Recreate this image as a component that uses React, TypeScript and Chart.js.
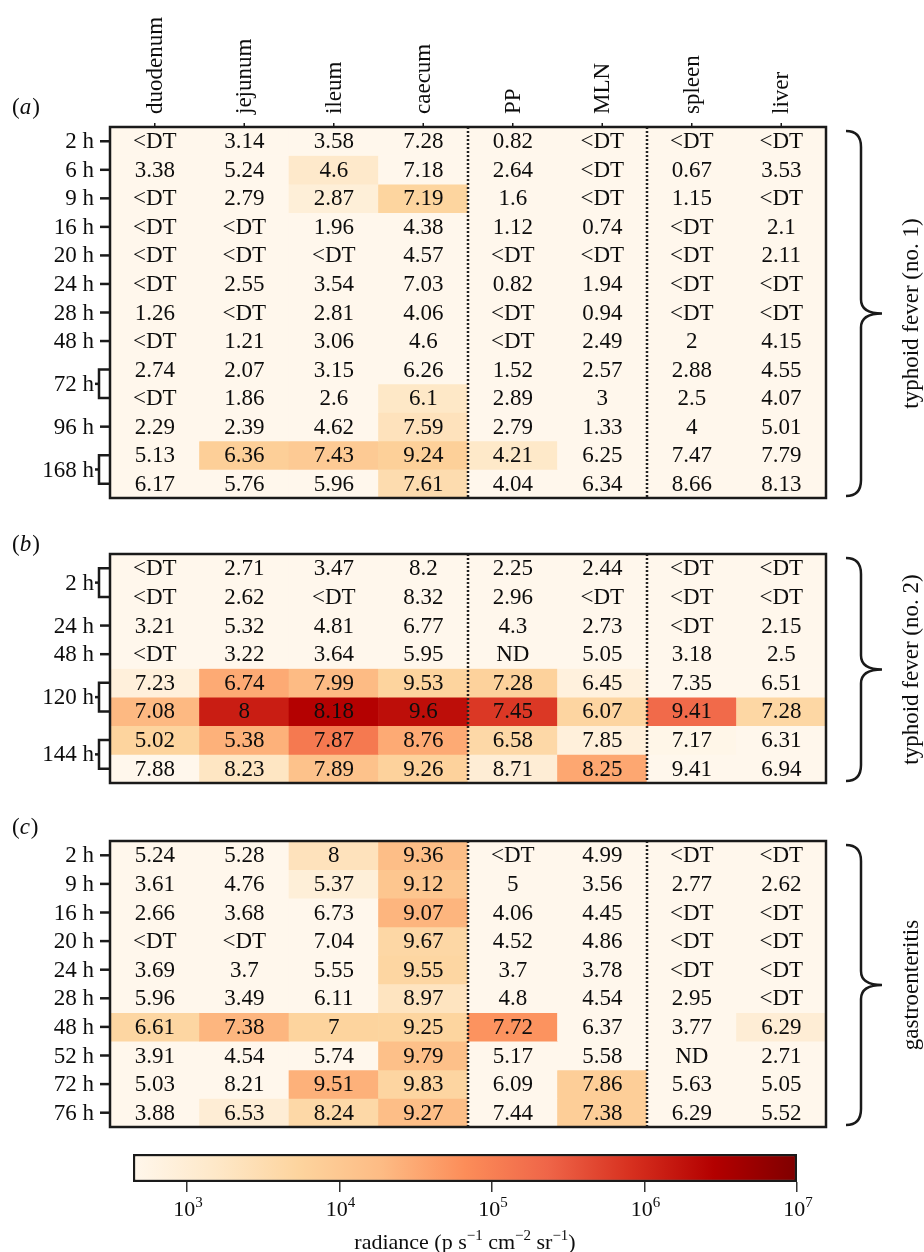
import React, { useEffect, useRef } from "react";
import { Chart, registerables } from "chart.js";
Chart.register(...registerables);

const FONT = '"Liberation Serif", "Times New Roman", serif';

// ---------- data ----------
const organs = ["duodenum", "jejunum", "ileum", "caecum", "PP", "MLN", "spleen", "liver"];

// panel (a) typhoid fever (no. 1)
const aTimes = ["2 h", "6 h", "9 h", "16 h", "20 h", "24 h", "28 h", "48 h", "72 h", "96 h", "168 h"];
const aSpans = [1, 1, 1, 1, 1, 1, 1, 1, 2, 1, 2];
const aText = [
  ["<DT", "3.14", "3.58", "7.28", "0.82", "<DT", "<DT", "<DT"],
  ["3.38", "5.24", "4.6", "7.18", "2.64", "<DT", "0.67", "3.53"],
  ["<DT", "2.79", "2.87", "7.19", "1.6", "<DT", "1.15", "<DT"],
  ["<DT", "<DT", "1.96", "4.38", "1.12", "0.74", "<DT", "2.1"],
  ["<DT", "<DT", "<DT", "4.57", "<DT", "<DT", "<DT", "2.11"],
  ["<DT", "2.55", "3.54", "7.03", "0.82", "1.94", "<DT", "<DT"],
  ["1.26", "<DT", "2.81", "4.06", "<DT", "0.94", "<DT", "<DT"],
  ["<DT", "1.21", "3.06", "4.6", "<DT", "2.49", "2", "4.15"],
  ["2.74", "2.07", "3.15", "6.26", "1.52", "2.57", "2.88", "4.55"],
  ["<DT", "1.86", "2.6", "6.1", "2.89", "3", "2.5", "4.07"],
  ["2.29", "2.39", "4.62", "7.59", "2.79", "1.33", "4", "5.01"],
  ["5.13", "6.36", "7.43", "9.24", "4.21", "6.25", "7.47", "7.79"],
  ["6.17", "5.76", "5.96", "7.61", "4.04", "6.34", "8.66", "8.13"],
];
// log10 radiance of each cell (colour)
const aRadiance = [
  [2.6, 2.6, 2.6, 2.6, 2.6, 2.6, 2.6, 2.6],
  [2.6, 2.6, 3.15, 2.6, 2.6, 2.6, 2.6, 2.6],
  [2.6, 2.6, 2.95, 3.72, 2.6, 2.6, 2.6, 2.6],
  [2.6, 2.6, 2.6, 2.6, 2.6, 2.6, 2.6, 2.6],
  [2.6, 2.6, 2.6, 2.6, 2.6, 2.6, 2.6, 2.6],
  [2.6, 2.6, 2.6, 2.6, 2.6, 2.6, 2.6, 2.6],
  [2.6, 2.6, 2.6, 2.6, 2.6, 2.6, 2.6, 2.6],
  [2.6, 2.6, 2.6, 2.6, 2.6, 2.6, 2.6, 2.6],
  [2.6, 2.6, 2.6, 2.6, 2.6, 2.6, 2.6, 2.6],
  [2.6, 2.6, 2.6, 3.2, 2.6, 2.6, 2.6, 2.6],
  [2.6, 2.6, 2.6, 3.35, 2.6, 2.6, 2.6, 2.6],
  [2.6, 3.85, 3.95, 3.83, 3.17, 2.6, 2.6, 2.6],
  [2.6, 2.6, 2.6, 3.52, 2.6, 2.6, 2.6, 2.6],
];

// panel (b) typhoid fever (no. 2)
const bTimes = ["2 h", "24 h", "48 h", "120 h", "144 h"];
const bSpans = [2, 1, 1, 2, 2];
const bText = [
  ["<DT", "2.71", "3.47", "8.2", "2.25", "2.44", "<DT", "<DT"],
  ["<DT", "2.62", "<DT", "8.32", "2.96", "<DT", "<DT", "<DT"],
  ["3.21", "5.32", "4.81", "6.77", "4.3", "2.73", "<DT", "2.15"],
  ["<DT", "3.22", "3.64", "5.95", "ND", "5.05", "3.18", "2.5"],
  ["7.23", "6.74", "7.99", "9.53", "7.28", "6.45", "7.35", "6.51"],
  ["7.08", "8", "8.18", "9.6", "7.45", "6.07", "9.41", "7.28"],
  ["5.02", "5.38", "7.87", "8.76", "6.58", "7.85", "7.17", "6.31"],
  ["7.88", "8.23", "7.89", "9.26", "8.71", "8.25", "9.41", "6.94"],
];
const bRadiance = [
  [2.6, 2.6, 2.6, 2.6, 2.6, 2.6, 2.6, 2.6],
  [2.6, 2.6, 2.6, 2.6, 2.6, 2.6, 2.6, 2.6],
  [2.6, 2.6, 2.6, 2.6, 2.6, 2.6, 2.6, 2.6],
  [2.6, 2.6, 2.6, 2.6, 2.6, 2.6, 2.6, 2.6],
  [2.9, 4.48, 4.28, 3.74, 3.78, 2.87, 2.6, 2.6],
  [4.3, 6.13, 6.44, 6.3, 5.83, 3.7, 5.3, 3.66],
  [3.74, 4.4, 5.1, 4.48, 3.62, 2.9, 2.7, 2.6],
  [2.5, 3.25, 4.13, 3.78, 3.0, 4.52, 2.6, 2.6],
];

// panel (c) gastroenteritis
const cTimes = ["2 h", "9 h", "16 h", "20 h", "24 h", "28 h", "48 h", "52 h", "72 h", "76 h"];
const cSpans = [1, 1, 1, 1, 1, 1, 1, 1, 1, 1];
const cText = [
  ["5.24", "5.28", "8", "9.36", "<DT", "4.99", "<DT", "<DT"],
  ["3.61", "4.76", "5.37", "9.12", "5", "3.56", "2.77", "2.62"],
  ["2.66", "3.68", "6.73", "9.07", "4.06", "4.45", "<DT", "<DT"],
  ["<DT", "<DT", "7.04", "9.67", "4.52", "4.86", "<DT", "<DT"],
  ["3.69", "3.7", "5.55", "9.55", "3.7", "3.78", "<DT", "<DT"],
  ["5.96", "3.49", "6.11", "8.97", "4.8", "4.54", "2.95", "<DT"],
  ["6.61", "7.38", "7", "9.25", "7.72", "6.37", "3.77", "6.29"],
  ["3.91", "4.54", "5.74", "9.79", "5.17", "5.58", "ND", "2.71"],
  ["5.03", "8.21", "9.51", "9.83", "6.09", "7.86", "5.63", "5.05"],
  ["3.88", "6.53", "8.24", "9.27", "7.44", "7.38", "6.29", "5.52"],
];
const cRadiance = [
  [2.6, 2.6, 3.35, 4.22, 2.6, 2.6, 2.6, 2.6],
  [2.6, 2.6, 2.95, 4.05, 2.6, 2.6, 2.6, 2.6],
  [2.6, 2.6, 2.6, 4.35, 2.6, 2.6, 2.6, 2.6],
  [2.6, 2.6, 2.6, 3.65, 2.6, 2.6, 2.6, 2.6],
  [2.6, 2.6, 2.6, 3.68, 2.6, 2.6, 2.6, 2.6],
  [2.6, 2.6, 2.6, 3.3, 2.6, 2.6, 2.6, 2.6],
  [3.68, 4.34, 3.74, 3.72, 4.75, 2.6, 2.6, 3.0],
  [2.6, 2.6, 2.6, 4.17, 2.6, 2.6, 2.6, 2.6],
  [2.6, 2.6, 4.4, 3.7, 2.6, 3.86, 2.6, 2.6],
  [2.6, 3.0, 3.62, 4.22, 2.6, 3.86, 2.6, 2.6],
];

// colour bar
const cbMin = 443;
const cbMax = 1e7;
const cbTickValues = [1e3, 1e4, 1e5, 1e6, 1e7];
const cbTickExponents = ["3", "4", "5", "6", "7"];
// [text, isSuperscript]
const cbTitleParts: [string, boolean][] = [
  ["radiance (p s", false],
  ["−1", true],
  [" cm", false],
  ["−2", true],
  [" sr", false],
  ["−1", true],
  [")", false],
];

const orRd = ["#fff7ec", "#fee8c8", "#fdd49e", "#fdbb84", "#fc8d59", "#ef6548", "#d7301f", "#b30000", "#7f0000"];

// ---------- helpers ----------
function hexToRgb(h: string) {
  const n = parseInt(h.slice(1), 16);
  return [(n >> 16) & 255, (n >> 8) & 255, n & 255];
}
function colourFor(logRad: number) {
  const lo = Math.log10(cbMin);
  const hi = Math.log10(cbMax);
  let t = (logRad - lo) / (hi - lo);
  t = Math.max(0, Math.min(1, t));
  const pos = t * (orRd.length - 1);
  const i = Math.min(orRd.length - 2, Math.floor(pos));
  const f = pos - i;
  const a = hexToRgb(orRd[i]);
  const b = hexToRgb(orRd[i + 1]);
  const c = a.map((v, k) => Math.round(v + (b[k] - v) * f));
  return `rgb(${c[0]},${c[1]},${c[2]})`;
}

type PanelCfg = {
  letter: string;
  letterY: number;
  times: string[];
  spans: number[];
  text: string[][];
  brace: string;
  headers: boolean;
};

const INK = "#0d0d0d";

function panelPlugin(cfg: PanelCfg) {
  return {
    id: "panelDecor",
    afterDatasetsDraw(chart: any) {
      const ctx = chart.ctx as CanvasRenderingContext2D;
      const area = chart.chartArea;
      const xs = chart.scales.x;
      const ys = chart.scales.y;
      ctx.save();
      // cell texts
      ctx.font = `23px ${FONT}`;
      ctx.fillStyle = INK;
      ctx.textAlign = "center";
      ctx.textBaseline = "middle";
      chart.data.datasets.forEach((_ds: any, i: number) => {
        const meta = chart.getDatasetMeta(i);
        meta.data.forEach((el: any, j: number) => {
          const p = el.getCenterPoint();
          ctx.fillText(cfg.text[i][j], p.x, p.y + 1);
        });
      });
      // dotted separators
      ctx.strokeStyle = "#222";
      ctx.lineWidth = 2.5;
      ctx.setLineDash([2, 2]);
      [4, 6].forEach((k) => {
        const x = (xs.getPixelForValue(k - 1) + xs.getPixelForValue(k)) / 2;
        ctx.beginPath();
        ctx.moveTo(x, area.top);
        ctx.lineTo(x, area.bottom);
        ctx.stroke();
      });
      ctx.setLineDash([]);
      // frame
      ctx.strokeStyle = "#1a1a1a";
      ctx.lineWidth = 2.5;
      ctx.strokeRect(area.left, area.top, area.right - area.left, area.bottom - area.top);

      // row labels with ticks / brackets
      ctx.lineWidth = 2.5;
      ctx.strokeStyle = "#1a1a1a";
      ctx.textAlign = "right";
      let r = 0;
      cfg.times.forEach((lab, gi) => {
        const span = cfg.spans[gi];
        let yMid: number;
        if (span === 1) {
          yMid = ys.getPixelForValue(r + 0.5);
          ctx.beginPath();
          ctx.moveTo(area.left - 10, yMid);
          ctx.lineTo(area.left, yMid);
          ctx.stroke();
        } else {
          const y1 = ys.getPixelForValue(r + 0.5);
          const y2 = ys.getPixelForValue(r + span - 0.5);
          yMid = (y1 + y2) / 2;
          const xv = area.left - 11;
          ctx.beginPath();
          ctx.moveTo(area.left, y1);
          ctx.lineTo(xv, y1);
          ctx.lineTo(xv, y2);
          ctx.lineTo(area.left, y2);
          ctx.stroke();
          ctx.beginPath();
          ctx.moveTo(xv, yMid);
          ctx.lineTo(xv - 4, yMid);
          ctx.stroke();
        }
        ctx.fillText(lab, area.left - 16, yMid + 1);
        r += span;
      });

      // column headers
      if (cfg.headers) {
        ctx.lineWidth = 1.5;
        organs.forEach((o, j) => {
          const x = xs.getPixelForValue(j);
          ctx.beginPath();
          ctx.moveTo(x, area.top - 4);
          ctx.lineTo(x, area.top);
          ctx.stroke();
          ctx.save();
          ctx.translate(x + 1, area.top - 13);
          ctx.rotate(-Math.PI / 2);
          ctx.textAlign = "left";
          ctx.textBaseline = "middle";
          ctx.fillText(o, 0, 0);
          ctx.restore();
        });
      }

      // panel letter (a)
      ctx.textAlign = "left";
      ctx.textBaseline = "middle";
      let lx = 12;
      ctx.font = `23px ${FONT}`;
      ctx.fillText("(", lx, cfg.letterY);
      lx += ctx.measureText("(").width;
      ctx.font = `italic 23px ${FONT}`;
      ctx.fillText(cfg.letter, lx, cfg.letterY);
      lx += ctx.measureText(cfg.letter).width + 1;
      ctx.font = `23px ${FONT}`;
      ctx.fillText(")", lx, cfg.letterY);

      // curly brace on the right
      const top = ys.getPixelForValue(0) + 4;
      const bot = ys.getPixelForValue(cfg.text.length) - 2;
      const mid = (top + bot) / 2;
      const x0 = area.right + 20;
      const x1 = area.right + 35;
      const xt = area.right + 56;
      ctx.lineWidth = 2.5;
      ctx.beginPath();
      ctx.moveTo(x0, top);
      ctx.quadraticCurveTo(x1, top, x1, top + 16);
      ctx.lineTo(x1, mid - 14);
      ctx.quadraticCurveTo(x1, mid, xt, mid);
      ctx.quadraticCurveTo(x1, mid, x1, mid + 14);
      ctx.lineTo(x1, bot - 16);
      ctx.quadraticCurveTo(x1, bot, x0, bot);
      ctx.stroke();
      ctx.save();
      ctx.translate(area.right + 86, mid);
      ctx.rotate(-Math.PI / 2);
      ctx.textAlign = "center";
      ctx.textBaseline = "middle";
      ctx.font = `23px ${FONT}`;
      ctx.fillText(cfg.brace, 0, 0);
      ctx.restore();
      ctx.restore();
    },
  };
}

function heatmapConfig(text: string[][], radiance: number[][], pad: any, cfg: PanelCfg) {
  return {
    type: "bar",
    data: {
      labels: organs,
      datasets: radiance.map((row, i) => ({
        label: `row ${i}`,
        data: row.map(() => 1),
        backgroundColor: row.map((v) => colourFor(v)),
        borderWidth: 0,
        barPercentage: 1,
        categoryPercentage: 1,
      })),
    },
    options: {
      responsive: false,
      animation: false,
      events: [],
      layout: { padding: pad },
      plugins: { legend: { display: false }, tooltip: { enabled: false } },
      scales: {
        x: { type: "category", stacked: true, display: false },
        y: { type: "linear", stacked: true, min: 0, max: text.length, reverse: true, display: false },
      },
    },
    plugins: [panelPlugin(cfg)],
  };
}

const colourbarText = {
  id: "cbText",
  afterDraw(chart: any) {
    const ctx = chart.ctx as CanvasRenderingContext2D;
    const xs = chart.scales.x;
    const area = chart.chartArea;
    ctx.save();
    ctx.fillStyle = INK;
    ctx.textAlign = "left";
    ctx.textBaseline = "alphabetic";
    const base = area.bottom + 34;
    cbTickValues.forEach((v, i) => {
      const x = xs.getPixelForValue(v);
      ctx.font = `22px ${FONT}`;
      const w1 = ctx.measureText("10").width;
      ctx.font = `15px ${FONT}`;
      const w2 = ctx.measureText(cbTickExponents[i]).width;
      const start = x - (w1 + w2) / 2 + 1;
      ctx.font = `22px ${FONT}`;
      ctx.fillText("10", start, base);
      ctx.font = `15px ${FONT}`;
      ctx.fillText(cbTickExponents[i], start + w1, base - 9);
    });
    // title
    const tBase = area.bottom + 67;
    let total = 0;
    cbTitleParts.forEach(([s, sup]) => {
      ctx.font = `${sup ? 15 : 22}px ${FONT}`;
      total += ctx.measureText(s).width;
    });
    let tx = (area.left + area.right) / 2 - total / 2;
    cbTitleParts.forEach(([s, sup]) => {
      ctx.font = `${sup ? 15 : 22}px ${FONT}`;
      ctx.fillText(s, tx, sup ? tBase - 9 : tBase);
      tx += ctx.measureText(s).width;
    });
    ctx.restore();
  },
};

function colourbarConfig() {
  return {
    type: "bar",
    data: {
      labels: ["radiance"],
      datasets: [
        {
          data: [[cbMin, cbMax]],
          backgroundColor: (c: any) => {
            const a = c.chart.chartArea;
            if (!a) return orRd[0];
            const g = c.chart.ctx.createLinearGradient(a.left, 0, a.right, 0);
            orRd.forEach((col, i) => g.addColorStop(i / (orRd.length - 1), col));
            return g;
          },
          borderColor: "#1a1a1a",
          borderWidth: 2.5,
          borderSkipped: false,
          barPercentage: 1,
          categoryPercentage: 1,
        },
      ],
    },
    options: {
      indexAxis: "y",
      responsive: false,
      animation: false,
      events: [],
      layout: { padding: { left: 133, right: 127, top: 16, bottom: 60 } },
      plugins: { legend: { display: false }, tooltip: { enabled: false } },
      scales: {
        x: {
          type: "logarithmic",
          min: cbMin,
          max: cbMax,
          position: "bottom",
          border: { display: false },
          grid: { drawOnChartArea: false, tickLength: 10, color: "#333", lineWidth: 1.5 },
          afterBuildTicks: (axis: any) => {
            axis.ticks = cbTickValues.map((v) => ({ value: v }));
          },
          afterFit: (axis: any) => {
            axis.height = 10;
          },
          ticks: { display: false },
          title: { display: false },
        },
        y: { display: false },
      },
    },
    plugins: [colourbarText],
  };
}

export default function App() {
  const refA = useRef<HTMLCanvasElement>(null);
  const refB = useRef<HTMLCanvasElement>(null);
  const refC = useRef<HTMLCanvasElement>(null);
  const refD = useRef<HTMLCanvasElement>(null);

  useEffect(() => {
    const charts: Chart[] = [];
    charts.push(
      new Chart(
        refA.current as HTMLCanvasElement,
        heatmapConfig(aText, aRadiance, { left: 110, right: 98, top: 127, bottom: 27 }, {
          letter: "a", letterY: 108, times: aTimes, spans: aSpans, text: aText,
          brace: "typhoid fever (no. 1)", headers: true,
        }) as any
      )
    );
    charts.push(
      new Chart(
        refB.current as HTMLCanvasElement,
        heatmapConfig(bText, bRadiance, { left: 110, right: 98, top: 29, bottom: 27 }, {
          letter: "b", letterY: 20, times: bTimes, spans: bSpans, text: bText,
          brace: "typhoid fever (no. 2)", headers: false,
        }) as any
      )
    );
    charts.push(
      new Chart(
        refC.current as HTMLCanvasElement,
        heatmapConfig(cText, cRadiance, { left: 110, right: 98, top: 31, bottom: 11 }, {
          letter: "c", letterY: 18, times: cTimes, spans: cSpans, text: cText,
          brace: "gastroenteritis", headers: false,
        }) as any
      )
    );
    charts.push(new Chart(refD.current as HTMLCanvasElement, colourbarConfig() as any));
    return () => charts.forEach((c) => c.destroy());
  }, []);

  const cs = (top: number): React.CSSProperties => ({ position: "absolute", left: 0, top, display: "block" });
  return (
    <div style={{ position: "absolute", left: 0, top: 0, width: 924, height: 1252, background: "#fff", overflow: "hidden" }}>
      <canvas ref={refA} width={924} height={525} style={cs(0)} />
      <canvas ref={refB} width={924} height={285} style={cs(525)} />
      <canvas ref={refC} width={924} height={328} style={cs(810)} />
      <canvas ref={refD} width={924} height={114} style={cs(1138)} />
    </div>
  );
}
